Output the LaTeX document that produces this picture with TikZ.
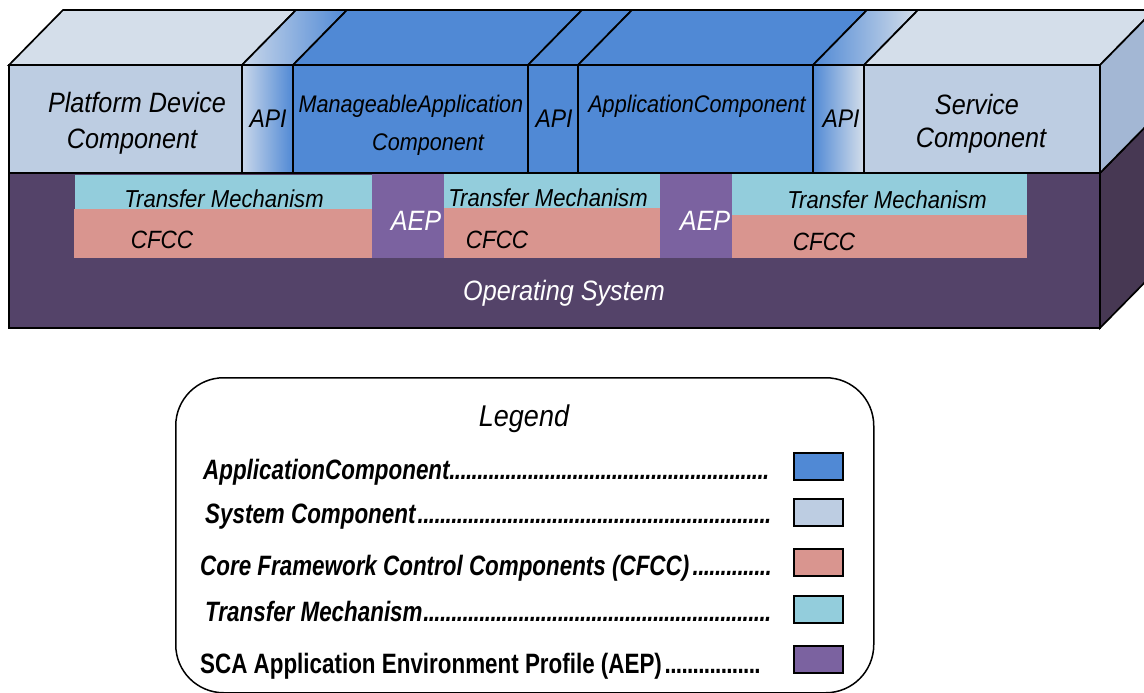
\documentclass[tikz,border=0pt]{standalone}
\usepackage{fontspec}
\setmainfont{Liberation Sans}
\newfontfamily\lblfont[FakeStretch=0.9]{Liberation Sans}
\newfontfamily\legfont[FakeStretch=0.8]{Liberation Sans}
\usetikzlibrary{calc}

\definecolor{appblue}{HTML}{5089D5}
\definecolor{sysfront}{HTML}{BDCDE2}
\definecolor{systop}{HTML}{D4DEEA}
\definecolor{sysside}{HTML}{A3B7D4}
\definecolor{apilight}{HTML}{C9D7EA}
\definecolor{apimid}{HTML}{93B3E2}
\definecolor{tmcyan}{HTML}{93CDDC}
\definecolor{cfccpink}{HTML}{D9958F}
\definecolor{aepviolet}{HTML}{7B62A0}
\definecolor{osfront}{HTML}{544369}
\definecolor{osside}{HTML}{473853}

\newcommand{\fsz}[1]{\fontsize{#1}{#1}\selectfont}
\newcommand{\legrow}[2]{\makebox[#1][l]{#2\leaders\hbox to 5.6pt{\hss.\hss}\hfill}}

\tikzset{
  edge/.style={draw=black, line width=1.7pt, line join=miter},
  frontbox/.style={edge, anchor=north west, inner sep=0pt, outer sep=0pt, minimum height=108pt},
  band/.style={anchor=north west, inner sep=0pt, outer sep=0pt, draw=none},
  lbl/.style={inner sep=0pt, anchor=base, font=\lblfont\itshape\fsz{#1}},
  wlbl/.style={lbl=#1, text=white},
  swatch/.style={draw=black, line width=1.8pt, anchor=north west, inner sep=0pt,
                 minimum width=49pt, minimum height=27pt},
  legtext/.style={inner sep=0pt, anchor=base west, font=\legfont\bfseries\fsz{28}},
}

\begin{document}
\begin{tikzpicture}[x=1pt, y=-1pt]
\path[use as bounding box] (0,0) rectangle (1144,693);
\clip (0,0) rectangle (1144,693);

% ---- operating system slab ----
\node[edge, fill=osfront, anchor=north west, inner sep=0pt, outer sep=0pt,
      minimum width=1091pt, minimum height=155pt] (os) at (9,173) {};
\path[edge, fill=osside] (os.north east) -- ++(54,-55) -- ++(0,155) -- (os.south east) -- cycle;

% ---- component row, front faces ----
\node[frontbox, fill=sysfront, minimum width=233pt] (pdc) at (9,65) {};
\node[frontbox, left color=apilight, right color=appblue, minimum width=51pt] (api1) at (242,65) {};
\node[frontbox, fill=appblue, minimum width=235pt] (mac) at (293,65) {};
\node[frontbox, left color=appblue, middle color=apimid, right color=appblue, minimum width=50pt] (api2) at (528,65) {};
\node[frontbox, fill=appblue, minimum width=235pt] (apc) at (578,65) {};
\node[frontbox, left color=appblue, right color=systop, minimum width=51pt] (api3) at (813,65) {};
\node[frontbox, fill=sysfront, minimum width=236pt] (svc) at (864,65) {};

% ---- component row, top faces ----
\path[edge, fill=systop] (pdc.north west) -- (pdc.north east) -- ++(54,-55) -- ($(pdc.north west)+(54,-55)$) -- cycle;
\path[edge, left color=apilight, right color=appblue] (api1.north west) -- (api1.north east) -- ++(54,-55) -- ($(api1.north west)+(54,-55)$) -- cycle;
\path[edge, fill=appblue] (mac.north west) -- (mac.north east) -- ++(54,-55) -- ($(mac.north west)+(54,-55)$) -- cycle;
\path[edge, left color=appblue, middle color=apimid, right color=appblue] (api2.north west) -- (api2.north east) -- ++(54,-55) -- ($(api2.north west)+(54,-55)$) -- cycle;
\path[edge, fill=appblue] (apc.north west) -- (apc.north east) -- ++(54,-55) -- ($(apc.north west)+(54,-55)$) -- cycle;
\path[edge, left color=appblue, right color=systop] (api3.north west) -- (api3.north east) -- ++(54,-55) -- ($(api3.north west)+(54,-55)$) -- cycle;
\path[edge, fill=systop] (svc.north west) -- (svc.north east) -- ++(54,-55) -- ($(svc.north west)+(54,-55)$) -- cycle;
\path[edge, fill=sysside] (svc.north east) -- ++(54,-55) -- ++(0,108) -- (svc.south east) -- cycle;

% ---- framework bands on the OS ----
\node[band, fill=tmcyan,   minimum width=297pt, minimum height=34pt] (tm1) at (75,175) {};
\node[band, fill=cfccpink, minimum width=298pt, minimum height=49pt] (cf1) at (74,209) {};
\node[band, fill=aepviolet, minimum width=72pt, minimum height=84pt] (aep1) at (372,174) {};
\node[band, fill=tmcyan,   minimum width=216pt, minimum height=34pt] (tm2) at (444,174) {};
\node[band, fill=cfccpink, minimum width=216pt, minimum height=50pt] (cf2) at (444,208) {};
\node[band, fill=aepviolet, minimum width=72pt, minimum height=84pt] (aep2) at (660,174) {};
\node[band, fill=tmcyan,   minimum width=295pt, minimum height=41pt] (tm3) at (732,174) {};
\node[band, fill=cfccpink, minimum width=295pt, minimum height=43pt] (cf3) at (732,215) {};

% ---- labels ----
\node[lbl=28] (pdcA) at (137,112) {Platform Device};
\node[lbl=28] (pdcB) at (132,148) {Component};
\node[lbl=25.5] (api1t) at (268,127) {API};
\node[lbl=24] (macA) at (411,112) {ManageableApplication};
\node[lbl=24] (macB) at (428,150) {Component};
\node[lbl=25.5] (api2t) at (554,128) {API};
\node[lbl=24] (apct) at (697,113) {ApplicationComponent};
\node[lbl=25.5] (api3t) at (841,128) {API};
\node[lbl=28] (svcA) at (977,114) {Service};
\node[lbl=28] (svcB) at (981,147) {Component};

\node[lbl=24.5] (tm1t) at (224,207) {Transfer Mechanism};
\node[lbl=24.5] (tm2t) at (548,206) {Transfer Mechanism};
\node[lbl=24.5] (tm3t) at (887,208) {Transfer Mechanism};
\node[lbl=25] (cf1t) at (162,248) {CFCC};
\node[lbl=25] (cf2t) at (497,248) {CFCC};
\node[lbl=25] (cf3t) at (824,250) {CFCC};
\node[wlbl=28] (aep1t) at (416,230) {AEP};
\node[wlbl=28] (aep2t) at (705,230) {AEP};
\node[wlbl=28] (ost) at (564,300) {Operating System};

% ---- legend ----
\node[edge, line width=1.5pt, rounded corners=48pt, anchor=north west, inner sep=0pt,
      minimum width=698pt, minimum height=315pt] (legend) at (175,377) {};
\node[lbl=30] (legtitle) at (524,426) {Legend};

\node[legtext] (lg1) at (203,479) {\legrow{569pt}{\itshape ApplicationComponent}};
\node[legtext] (lg2) at (205,523) {\legrow{567pt}{\itshape System Component}};
\node[legtext] (lg3) at (200,575) {\legrow{572pt}{\itshape Core Framework Control Components (CFCC)}};
\node[legtext] (lg4) at (205,621) {\legrow{567pt}{\itshape Transfer Mechanism}};
\node[legtext] (lg5) at (200,673) {\legrow{565pt}{SCA Application Environment Profile (AEP)}};

\node[swatch, fill=appblue]   (sw1) at (793,452) {};
\node[swatch, fill=sysfront]  (sw2) at (793,498) {};
\node[swatch, fill=cfccpink]  (sw3) at (793,548) {};
\node[swatch, fill=tmcyan]    (sw4) at (793,595) {};
\node[swatch, fill=aepviolet] (sw5) at (793,645) {};
\end{tikzpicture}
\end{document}
